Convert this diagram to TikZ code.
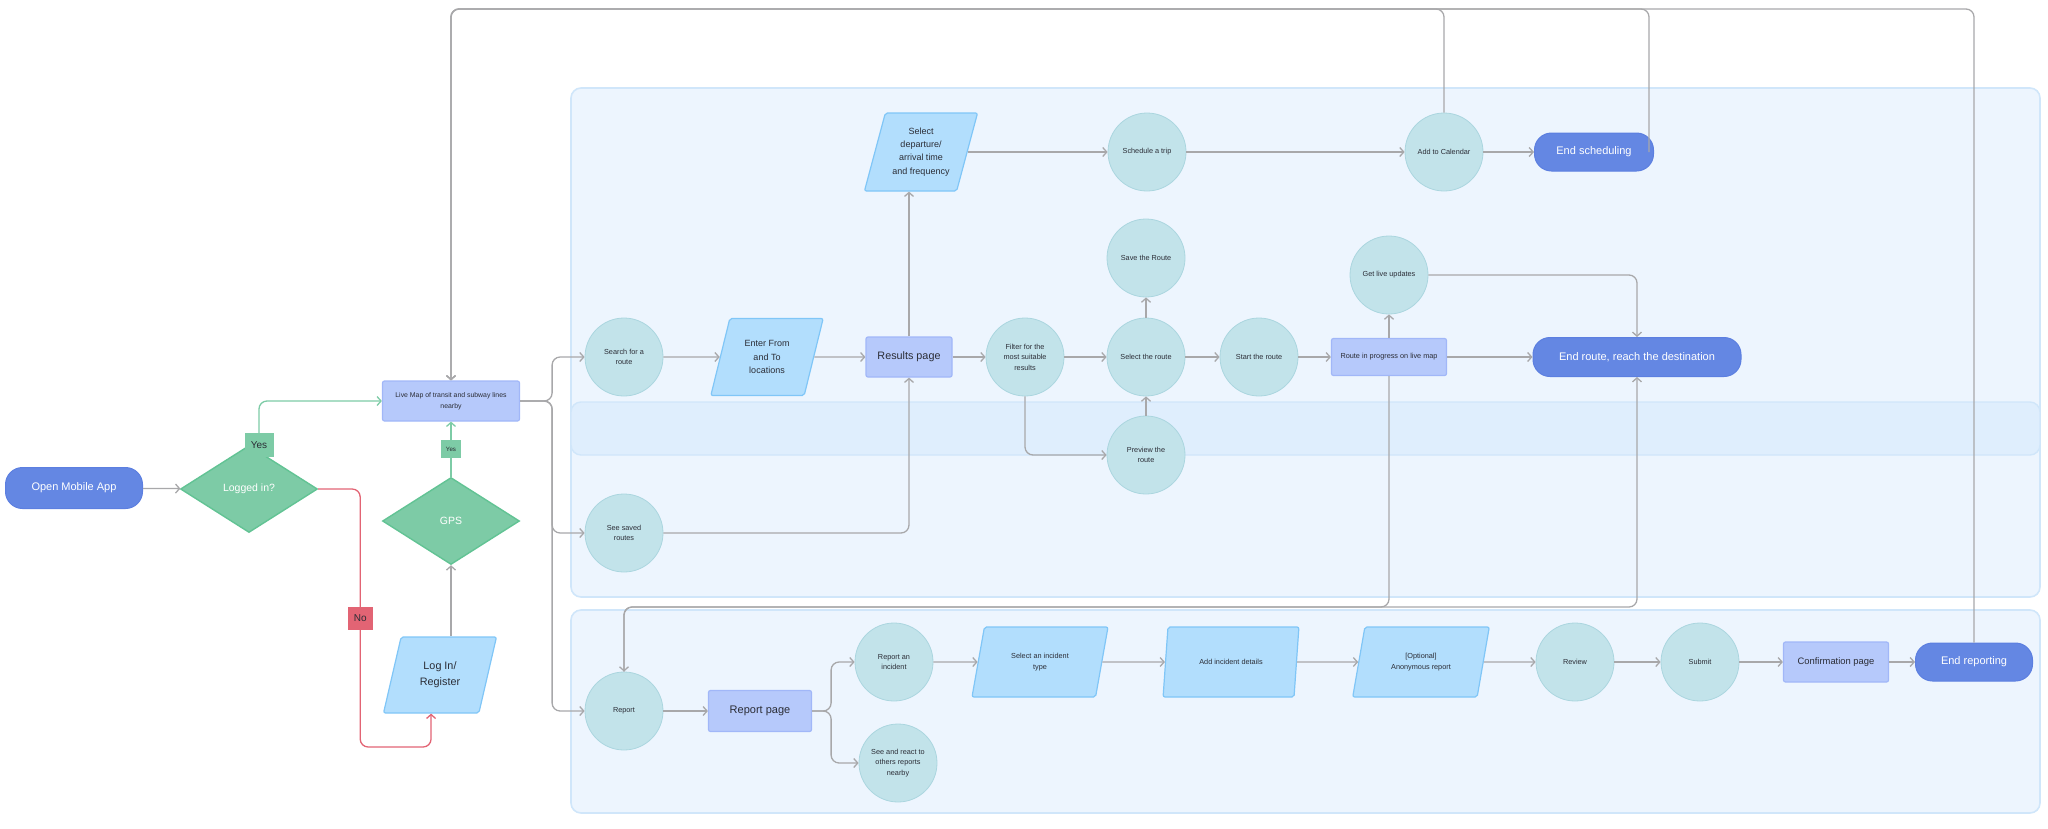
\documentclass[tikz,border=0pt]{standalone}
\usepackage{fontspec}
\setmainfont{Liberation Sans}
\usepackage{tikz}
\usetikzlibrary{shapes}
\usetikzlibrary{shapes.geometric}
\usetikzlibrary{arrows.meta}

\definecolor{ink}{HTML}{2B2D36}
\definecolor{wire}{HTML}{A8A8AA}
\definecolor{endblue}{HTML}{6487E3}
\definecolor{endline}{HTML}{5C7FE0}
\definecolor{okgreen}{HTML}{7DCBA6}
\definecolor{okline}{HTML}{62C394}
\definecolor{nored}{HTML}{E26474}
\definecolor{pagefill}{HTML}{B6C9FB}
\definecolor{pageline}{HTML}{A1B7F8}
\definecolor{iofill}{HTML}{B2DEFD}
\definecolor{ioline}{HTML}{80C6F7}
\definecolor{stepfill}{HTML}{C2E3EA}
\definecolor{stepline}{HTML}{ABD6DF}
\definecolor{lanefill}{HTML}{EDF5FE}
\definecolor{laneline}{HTML}{D0E6FA}
\definecolor{bandfill}{HTML}{DFEEFD}

\begin{document}
\begin{tikzpicture}[x=1pt,y=-1pt,
  big/.style={font=\fontsize{11}{14}\selectfont},
  mid/.style={font=\fontsize{9}{13.3}\selectfont},
  small/.style={font=\fontsize{7.3}{10.6}\selectfont},
  arr/.style={draw=wire,line width=1.3pt,rounded corners=8pt,-{Straight Barb[length=4pt,width=9pt]}},
  yesline/.style={arr,draw=okgreen},
  noline/.style={arr,draw=nored},
  lane/.style={fill=lanefill,draw=laneline,line width=1.6pt,rounded corners=10pt},
  band/.style={fill=bandfill,draw=laneline,line width=1.4pt,rounded corners=10pt},
  endnode/.style={big,rectangle,rounded corners=17pt,fill=endblue,draw=endline,line width=1pt,text=white,minimum height=38pt},
  decision/.style={diamond,fill=okgreen,draw=okline,line width=1.4pt,text=white,inner sep=0pt,minimum width=137pt,minimum height=87pt,font=\fontsize{10.5}{13}\selectfont},
  page/.style={rectangle,rounded corners=2pt,fill=pagefill,draw=pageline,line width=1.2pt,text=ink,align=center,inner sep=2pt},
  io/.style={trapezium,trapezium left angle=71,trapezium right angle=109,trapezium stretches=true,fill=iofill,draw=ioline,line width=1.2pt,rounded corners=2pt,text=ink,align=center,inner sep=1pt},
  stepnode/.style={small,circle,fill=stepfill,draw=stepline,line width=0.8pt,text=ink,align=center,minimum size=78pt,inner sep=0pt},
  yeslabel/.style={rectangle,sharp corners,fill=okgreen,draw=okgreen,line width=0.6pt,text=ink,inner sep=0pt},
  nolabel/.style={rectangle,sharp corners,fill=nored,draw=nored,line width=0.6pt,text=ink,inner sep=0pt,minimum width=24pt,minimum height=22pt,font=\fontsize{10}{12}\selectfont}
]
  \useasboundingbox (0,0) rectangle (2048,828);
  \draw[lane] (571,88) rectangle (2040,597);
  \draw[band] (571,402) rectangle (2040,455);
  \draw[lane] (571,610) rectangle (2040,813);
  \coordinate (top) at (0,9);
  \coordinate (bot) at (0,607);

  \node[endnode,minimum width=137pt,minimum height=41pt] (open) at (74,488) {Open Mobile App};
  \node[decision] (logged) at (249,489) {Logged in?};
  \node[page,minimum width=137pt,minimum height=40pt,font=\fontsize{6.9}{11}\selectfont] (live) at (451,401) {Live Map of transit and subway lines\\nearby};
  \node[decision] (gps) at (451,521) {GPS};
  \node[io,minimum width=113pt,minimum height=76pt,font=\fontsize{10.8}{15.7}\selectfont] (login) at (440,675) {Log In/\\Register};

  \node[stepnode] (search) at (624,357) {Search for a\\route};
  \node[io,mid,minimum width=113pt,minimum height=77pt] (enter) at (767,357) {Enter From\\and To\\locations};
  \node[page,minimum width=86pt,minimum height=40pt,font=\fontsize{10.8}{13}\selectfont] (results) at (909,357) {Results page};
  \node[io,mid,minimum width=114pt,minimum height=78pt] (seldep) at (921,152) {Select\\departure/\\arrival time\\and frequency};
  \node[stepnode] (sched) at (1147,152) {Schedule a trip};
  \node[stepnode] (cal) at (1444,152) {Add to Calendar};
  \node[endnode,minimum width=119pt] (endsch) at (1594,152) {End scheduling};
  \node[stepnode] (filter) at (1025,357) {Filter for the\\most suitable\\results};
  \node[stepnode] (sel) at (1146,357) {Select the route};
  \node[stepnode] (save) at (1146,258) {Save the Route};
  \node[stepnode] (preview) at (1146,455) {Preview the\\route};
  \node[stepnode] (start) at (1259,357) {Start the route};
  \node[page,small,minimum width=115pt,minimum height=37pt] (rip) at (1389,357) {Route in progress on live map};
  \node[stepnode] (updates) at (1389,275) {Get live updates};
  \node[endnode,minimum width=208pt,minimum height=39pt] (endroute) at (1637,357) {End route, reach the destination};
  \node[stepnode] (saved) at (624,533) {See saved\\routes};

  \node[stepnode] (report) at (624,711) {Report};
  \node[page,minimum width=103pt,minimum height=41pt,font=\fontsize{11}{13}\selectfont] (rpage) at (760,711) {Report page};
  \node[stepnode] (incident) at (894,662) {Report an\\incident};
  \node[stepnode] (react) at (898,763) {See and react to\\others reports\\nearby};
  \node[io,small,minimum width=136pt,minimum height=70pt] (itype) at (1040,662) {Select an incident\\type};
  \node[io,small,minimum width=136pt,minimum height=70pt] (details) at (1231,662) {Add incident details};
  \node[io,small,minimum width=137pt,minimum height=70pt] (anon) at (1421,662) {[Optional]\\Anonymous report};
  \node[stepnode] (review) at (1575,662) {Review};
  \node[stepnode] (submit) at (1700,662) {Submit};
  \node[page,minimum width=105pt,minimum height=40pt,font=\fontsize{9.4}{12}\selectfont] (confirm) at (1836,662) {Confirmation page};
  \node[endnode,minimum width=117pt] (endrep) at (1974,662) {End reporting};

  \draw[arr] (open) -- (logged);
  \draw[yesline] ([xshift=10pt]logged.north) |- node[yeslabel,pos=0,minimum width=28pt,minimum height=23pt,font=\fontsize{10}{12}\selectfont] {Yes} (live.west);
  \draw[noline] (logged.east) -- ++(42,0) -- node[nolabel] {No} ++(0,258) -| (login.bottom side);
  \draw[arr] (login.top side -| gps.south) -- (gps.south);
  \draw[yesline] (gps.north) -- node[yeslabel,minimum width=19pt,minimum height=17pt,font=\fontsize{6.2}{8}\selectfont] {Yes} (live.south);

  \draw[arr] (live.east) -- ++(32,0) |- (search.west);
  \draw[arr] (live.east) -- ++(32,0) |- (saved.west);
  \draw[arr] (live.east) -- ++(32,0) |- (report.west);

  \draw[arr] (search) -- (enter);
  \draw[arr] (enter) -- (results);
  \draw[arr] (results.north) -- (results.north |- seldep.bottom side);
  \draw[arr] (seldep.east) -- (sched.west |- seldep.east);
  \draw[arr] (sched) -- (cal);
  \draw[arr] (cal) -- (endsch);
  \draw[arr] (results) -- (filter);
  \draw[arr] (filter) -- (sel);
  \draw[arr] (filter.south) |- (preview.west);
  \draw[arr] (preview) -- (sel);
  \draw[arr] (sel) -- (save);
  \draw[arr] (sel) -- (start);
  \draw[arr] (start) -- (rip);
  \draw[arr] (rip) -- (updates);
  \draw[arr] (rip) -- (endroute);
  \draw[arr] (updates.east) -| (endroute.north);
  \draw[arr] (saved.east) -| (results.south);

  \draw[arr] (cal.north) -- (cal.north |- top) -| (live.north);
  \draw[arr] ([xshift=-5pt]endsch.east) -- ([xshift=-5pt]endsch.east |- top) -| (live.north);
  \draw[arr] (endrep.north) -- (endrep.north |- top) -| (live.north);
  \draw[arr] (rip.south) -- (rip.south |- bot) -| (report.north);
  \draw[arr] (report.north) -- (report.north |- bot) -| (endroute.south);

  \draw[arr] (report) -- (rpage);
  \draw[arr] (rpage.east) -- ++(19,0) |- (incident.west);
  \draw[arr] (rpage.east) -- ++(19,0) |- (react.west);
  \draw[arr] (incident) -- (itype);
  \draw[arr] (itype) -- (details);
  \draw[arr] (details) -- (anon);
  \draw[arr] (anon) -- (review);
  \draw[arr] (review) -- (submit);
  \draw[arr] (submit) -- (confirm);
  \draw[arr] (confirm) -- (endrep);
\end{tikzpicture}
\end{document}
